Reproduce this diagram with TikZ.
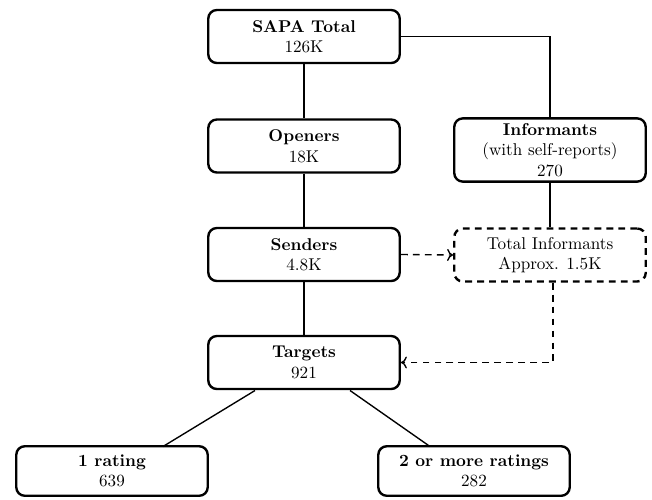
\documentclass[tikz,border=0pt]{standalone}
\usetikzlibrary{arrows.meta}
\begin{document}
\begin{tikzpicture}[x=0.585pt,y=-0.585pt,
  box/.style={draw,line width=1.4pt,rounded corners=5pt,minimum width=112pt,minimum height=31pt,align=center,inner sep=2pt},
  dbox/.style={box,dashed,dash pattern=on 4pt off 3pt},
  conn/.style={line width=0.8pt},
  dconn/.style={line width=0.8pt,dash pattern=on 4pt off 3pt,-{To[length=3.5pt,width=7pt]}}]
\useasboundingbox (0,0) rectangle (652,499);
\node[box] (sapa) at (304,36.5) {\textbf{SAPA Total}\\126K};
\node[box] (open) at (304,146) {\textbf{Openers}\\18K};
\node[box] (send) at (304,254.5) {\textbf{Senders}\\4.8K};
\node[box] (targ) at (304,362.5) {\textbf{Targets}\\921};
\node[box,minimum height=37pt] (inf) at (550,150) {\textbf{Informants}\\(with self-reports)\\270};
\node[dbox] (tot) at (550,255) {Total Informants\\Approx. 1.5K};
\node[box,minimum height=29pt] (one) at (112,471) {\textbf{1 rating}\\639};
\node[box,minimum height=29pt] (two) at (474,471) {\textbf{2 or more ratings}\\282};
\draw[conn] (sapa) -- (open);
\draw[conn] (open) -- (send);
\draw[conn] (send) -- (targ);
\draw[conn] (sapa.east) -| (inf.north);
\draw[conn] (inf) -- (tot);
\draw[dconn] (send.east) -- (tot.west);
\coordinate (tb) at (553,362.5);
\draw[dconn] (tot.south -| tb) |- (targ.east);
\draw[conn] (255,390.5) -- (163,446.5);
\draw[conn] (350,390.5) -- (430,446.5);
\end{tikzpicture}
\end{document}
